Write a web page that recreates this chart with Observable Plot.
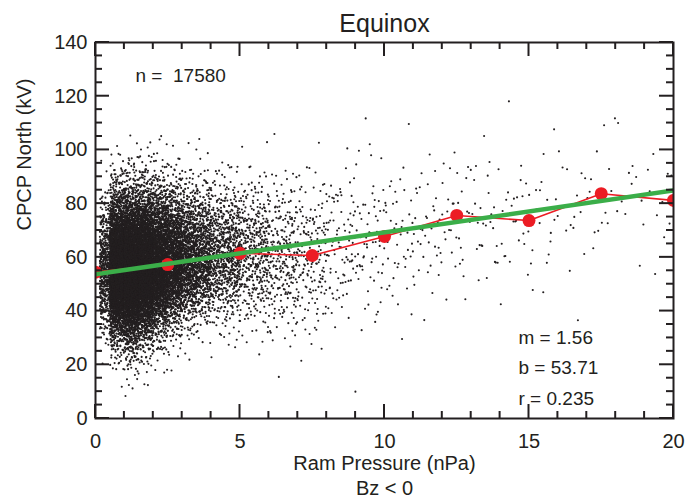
<!DOCTYPE html>
<html>
<head>
<meta charset="utf-8">
<script src="https://cdn.jsdelivr.net/npm/d3@7"></script>
<script src="https://cdn.jsdelivr.net/npm/@observablehq/plot@0.6"></script>
<style>
  html, body { margin: 0; padding: 0; background: #ffffff; }
  #chart { width: 687px; height: 500px; }
</style>
</head>
<body>
<div id="chart"></div>
<script>
// ---- Data ----
const titleText = "Equinox";
const xLabel = "Ram Pressure (nPa)";
const xSubLabel = "Bz < 0";
const yLabel = "CPCP North (kV)";

const nCount = 17580;
const slope = 1.56;
const intercept = 53.71;
const rCoef = 0.235;

// binned means (red curve)
const binX = [0, 2.5, 5, 7.5, 10, 12.5, 15, 17.5, 20];
const binMean = [54.5, 57.3, 61.5, 60.7, 67.8, 75.6, 73.7, 83.7, 81.2];

// tick positions / labels
const xMajor = [0, 5, 10, 15, 20];
const xMinor = [1, 2, 3, 4, 6, 7, 8, 9, 11, 12, 13, 14, 16, 17, 18, 19];
const yMajor = [0, 20, 40, 60, 80, 100, 120, 140];
const yMinor = [5, 10, 15, 25, 30, 35, 45, 50, 55, 65, 70, 75, 85, 90, 95, 105, 110, 115, 125, 130, 135];

// scatter cloud, described per pressure bin:
// x range, approx. point count, centre CPCP, spread below, spread above
const cloudX0 = [0.15, 0.5, 1.0, 1.5, 2.0, 2.5, 3.0, 3.5, 4.0, 5.0, 6.0, 7.0, 8.0, 9.0, 10, 11, 12, 13, 14, 15, 16, 17, 18, 19];
const cloudX1 = [0.5, 1.0, 1.5, 2.0, 2.5, 3.0, 3.5, 4.0, 5.0, 6.0, 7.0, 8.0, 9.0, 10, 11, 12, 13, 14, 15, 16, 17, 18, 19, 20];
const cloudN  = [500, 3200, 3600, 2900, 2000, 1350, 900, 650, 750, 420, 260, 160, 90, 65, 45, 38, 32, 28, 24, 20, 15, 15, 11, 10];
const cloudMid = [56, 55, 55, 56, 57, 58, 59, 60, 61, 62, 60, 61, 64, 66, 67, 70, 74, 75, 73, 74, 80, 83, 82, 81];
const cloudLo  = [11.5, 12, 13, 12.5, 12, 11.5, 11, 11, 12, 13, 14, 15, 15, 15, 15, 15, 15, 14, 14, 15, 15, 14, 13, 13];
const cloudHi  = [12.5, 14, 14, 14, 14, 13.5, 13, 13, 12.5, 13, 14, 15, 16, 17, 15, 15, 14, 14, 15, 15, 14, 14, 13, 13];

// deterministic placement of points inside each bin (low-discrepancy sequence)
function halton(i, b) { let f = 1, r = 0; while (i > 0) { f /= b; r += f * (i % b); i = Math.floor(i / b); } return r; }
const scatter = [];
let idx = 1;
for (let k = 0; k < cloudN.length; k++) {
  for (let j = 0; j < cloudN[k]; j++, idx++) {
    const u = halton(idx, 2), v = Math.max(1e-6, halton(idx, 3)), w = halton(idx, 5);
    let z = Math.sqrt(-2 * Math.log(v)) * Math.cos(2 * Math.PI * w);
    z = Math.max(-3.6, Math.min(3.6, z));
    const y = cloudMid[k] + z * (z < 0 ? cloudLo[k] : cloudHi[k]);
    scatter.push({x: cloudX0[k] + (cloudX1[k] - cloudX0[k]) * u, y});
  }
}

const means = binX.map((x, i) => ({x, y: binMean[i]}));
const fitLine = [0, 20].map(x => ({x, y: intercept + slope * x}));

const ink = "#231f20";
const red = "#ec1c24";
const green = "#3bae49";

const W = 687, H = 500, ML = 95, MR = 14, MT = 42, MB = 82;
const majLen = 14, minLen = 7;

// inward ticks on all four sides, placed through Plot's own x / y scales
function insideTicks(index, scales, values, dims) {
  const {x, y} = scales;
  const top = dims.marginTop, bottom = dims.height - dims.marginBottom;
  const left = dims.marginLeft, right = dims.width - dims.marginRight;
  const g = d3.create("svg:g")
    .attr("stroke", ink).attr("stroke-width", 2).attr("fill", "none");
  for (const [ticks, len] of [[xMajor, majLen], [xMinor, minLen]]) {
    for (const t of ticks) {
      const px = x(t);
      g.append("line").attr("x1", px).attr("x2", px).attr("y1", bottom).attr("y2", bottom - len);
      g.append("line").attr("x1", px).attr("x2", px).attr("y1", top).attr("y2", top + len);
    }
  }
  for (const [ticks, len] of [[yMajor, majLen], [yMinor, minLen]]) {
    for (const t of ticks) {
      const py = y(t);
      g.append("line").attr("y1", py).attr("y2", py).attr("x1", left).attr("x2", left + len);
      g.append("line").attr("y1", py).attr("y2", py).attr("x1", right).attr("x2", right - len);
    }
  }
  return g.node();
}

const chart = Plot.plot({
  width: W,
  height: H,
  marginLeft: ML,
  marginRight: MR,
  marginTop: MT,
  marginBottom: MB,
  x: {domain: [0, 20], axis: null},
  y: {domain: [0, 140], axis: null},
  style: {fontFamily: "'Liberation Sans', Arial, Helvetica, sans-serif", fontSize: "20px", color: ink, background: "#ffffff"},
  marks: [
    Plot.dot(scatter, {x: "x", y: "y", r: 1.05, fill: ink, stroke: null, clip: true}),
    Plot.line(means, {x: "x", y: "y", stroke: red, strokeWidth: 1.6, clip: true}),
    Plot.dot(means, {x: "x", y: "y", r: 6.5, fill: red, stroke: null, clip: true}),
    Plot.line(fitLine, {x: "x", y: "y", stroke: green, strokeWidth: 4.5, clip: true}),
    Plot.frame({stroke: ink, strokeWidth: 2}),
    insideTicks,
    Plot.axisX({anchor: "bottom", ticks: xMajor, tickSize: 0, tickPadding: 15, label: null, fontSize: 20, fill: ink}),
    Plot.axisY({anchor: "left", ticks: yMajor, tickSize: 0, tickPadding: 8, label: null, fontSize: 20, fill: ink}),
    Plot.text([titleText], {text: d => d, frameAnchor: "top", dy: -28, fontSize: 25, fill: ink}),
    Plot.text([xLabel], {text: d => d, frameAnchor: "bottom", dy: 51, fontSize: 20, fill: ink}),
    Plot.text([xSubLabel], {text: d => d, frameAnchor: "bottom", dy: 76, fontSize: 20, fill: ink}),
    Plot.text([yLabel], {text: d => d, frameAnchor: "left", dx: -71, rotate: -90, fontSize: 20, fill: ink}),
    Plot.text([`n =\u00a0 ${nCount}`], {text: d => d, frameAnchor: "top-left", dx: 40, dy: 26, textAnchor: "start", fontSize: 19, fill: ink}),
    Plot.text([`m = ${slope.toFixed(2)}\nb = ${intercept.toFixed(2)}\nr = ${rCoef.toFixed(3)}`], {text: d => d, frameAnchor: "bottom-left", dx: 423, dy: -14, textAnchor: "start", lineHeight: 1.6, fontSize: 19, fill: ink})
  ]
});
document.getElementById("chart").appendChild(chart);
</script>
</body>
</html>
